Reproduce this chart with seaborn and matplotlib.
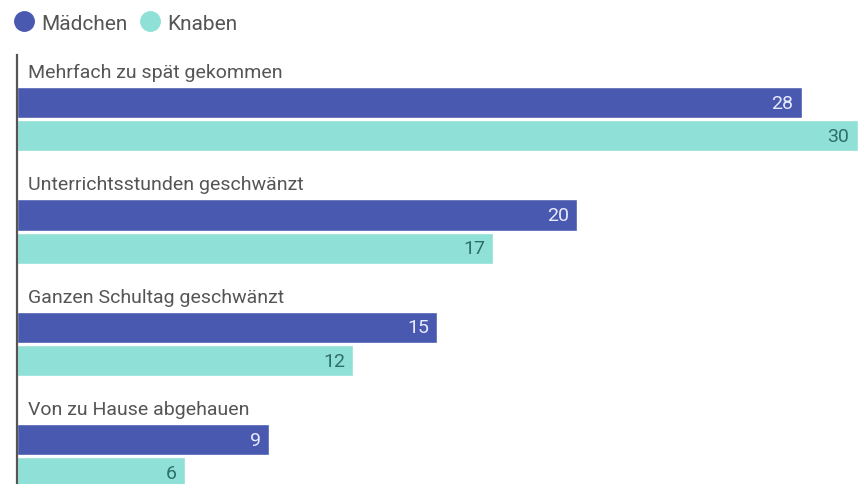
import matplotlib
matplotlib.use("Agg")
import matplotlib.pyplot as plt
from matplotlib import font_manager
from matplotlib.lines import Line2D
import seaborn as sns
import pandas as pd

categories = ["Mehrfach zu spät gekommen", "Unterrichtsstunden geschwänzt",
              "Ganzen Schultag geschwänzt", "Von zu Hause abgehauen"]
maedchen = [28, 20, 15, 9]
knaben = [30, 17, 12, 6]
series = ["Mädchen", "Knaben"]
colors = {"Mädchen": "#4a59b0", "Knaben": "#8fe1d7"}
label_colors = {"Mädchen": "#e6ebff", "Knaben": "#2e6e69"}

names = {f.name for f in font_manager.fontManager.ttflist}
fam = "Liberation Sans Narrow" if "Liberation Sans Narrow" in names else "Roboto"

sns.set_theme(style="white")
plt.rcParams["font.family"] = [fam, "DejaVu Sans"]

df = pd.DataFrame({
    "cat": categories * 2,
    "val": maedchen + knaben,
    "sex": [series[0]] * len(categories) + [series[1]] * len(categories),
})

fig = plt.figure(figsize=(8.59, 4.85), dpi=100)
ax = fig.add_axes([17 / 859, 0, (859 - 17) / 859, (485 - 56) / 485])
sns.barplot(data=df, y="cat", x="val", hue="sex", palette=colors, orient="h",
            width=0.59, gap=0.06, ax=ax, legend=False, saturation=1)

ax.set_xlim(0, 30.05)
ax.set_ylim(3.245, -0.57)
ax.set_xlabel("")
ax.set_ylabel("")
ax.set_xticks([])
ax.set_yticks([])
for s in ["top", "right", "bottom"]:
    ax.spines[s].set_visible(False)
ax.spines["left"].set_color("#555555")
ax.spines["left"].set_linewidth(1.6)

for i, cat in enumerate(categories):
    ax.annotate(cat, xy=(0, i - 0.42), xytext=(8, 0), textcoords="offset points",
                va="center", ha="left", fontsize=14, color="#555555")

for cont, name in zip(ax.containers, series):
    texts = ax.bar_label(cont, padding=-6, fontsize=14, color=label_colors[name])
    for t in texts:
        t.set_ha("right")

handles = [Line2D([], [], marker="o", linestyle="", markersize=14,
                  markerfacecolor=colors[n], markeredgecolor=colors[n]) for n in series]
fig.legend(handles, series, loc="center left", bbox_to_anchor=(0.004, 1 - 24 / 485),
           ncol=2, frameon=False, fontsize=15, handletextpad=0.2, columnspacing=0.5,
           labelcolor="#555555", borderaxespad=0, handlelength=1.2)

fig.savefig("out.png", dpi=100)
